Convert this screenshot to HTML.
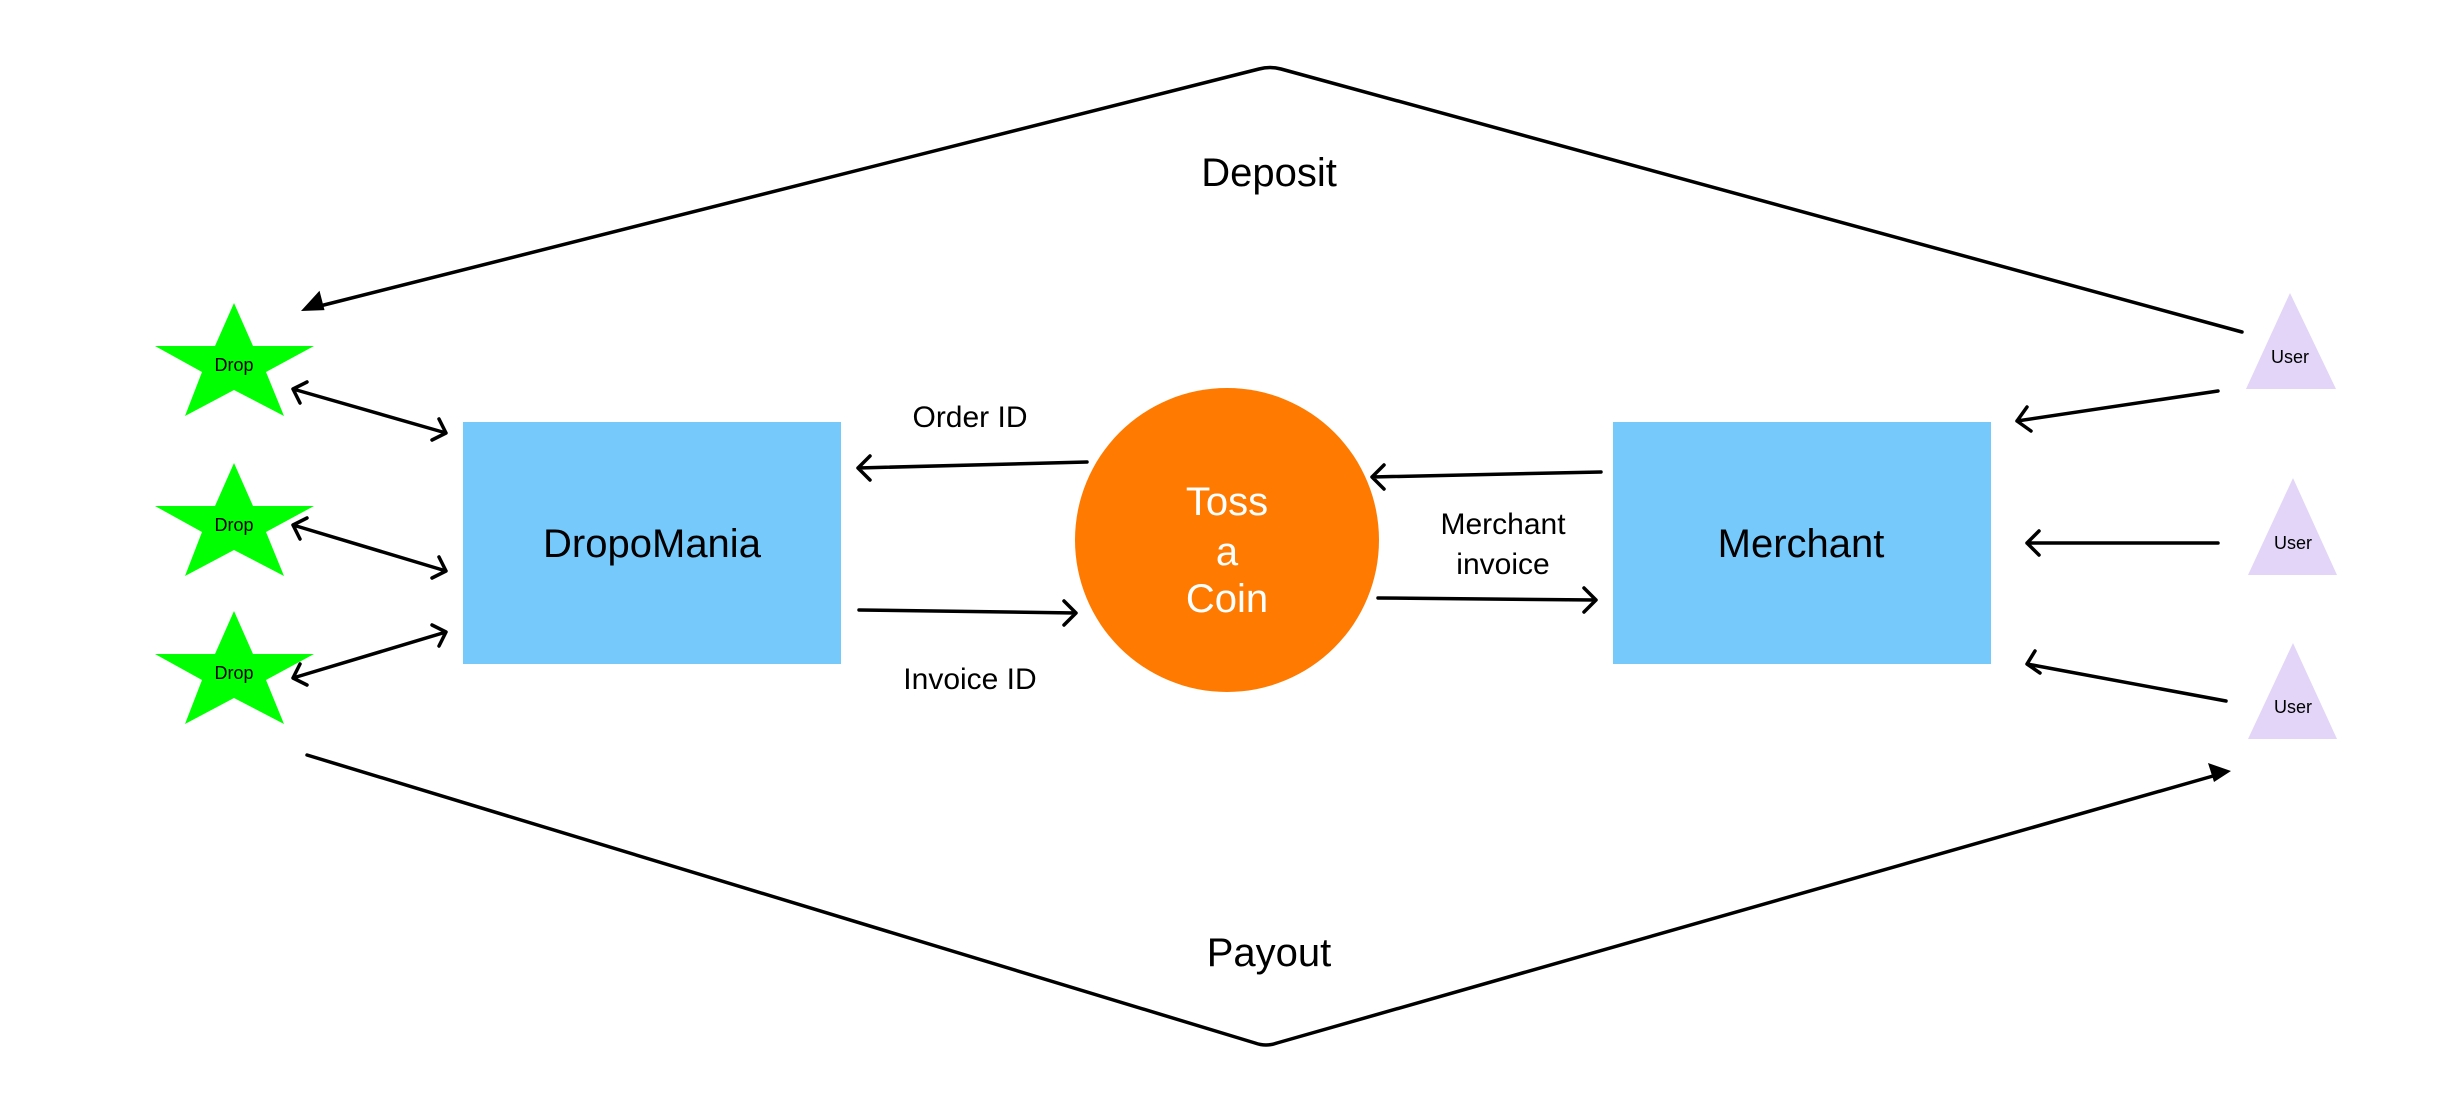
<!DOCTYPE html>
<html><head><meta charset="utf-8"><style>
html,body{margin:0;padding:0;background:#fff;}
svg{display:block;font-family:"Liberation Sans",sans-serif;}
</style></head><body>
<svg width="2454" height="1120" viewBox="0 0 2454 1120" xmlns="http://www.w3.org/2000/svg">
<defs>
<marker id="open" markerWidth="12" markerHeight="12" refX="10" refY="6" orient="auto" markerUnits="userSpaceOnUse" viewBox="0 0 12 12">
</marker>
</defs>
<rect x="463" y="422" width="378" height="242" fill="#75c9fb"/>
<rect x="1613" y="422" width="378" height="242" fill="#75c9fb"/>
<circle cx="1227" cy="540" r="152" fill="#ff7a00"/>
<g fill="#00ff00">
<polygon points="234,303 253,346 314,346 266,372 284,416 234,390 185,416 202,372 155,346 215,346"/>
<polygon transform="translate(0,160)" points="234,303 253,346 314,346 266,372 284,416 234,390 185,416 202,372 155,346 215,346"/>
<polygon transform="translate(0,308)" points="234,303 253,346 314,346 266,372 284,416 234,390 185,416 202,372 155,346 215,346"/>
</g>
<g fill="#e2d5f8">
<polygon points="2290,293 2336,389 2246,389"/>
<polygon points="2293,478 2337,575 2248,575"/>
<polygon points="2293,643 2337,739 2248,739"/>
</g>
<g fill="none" stroke="#000" stroke-width="3.5" stroke-linecap="round" stroke-linejoin="round">
<path d="M2242,332 L1281,69 Q1270,66 1259,69 L312,308"/>
<path d="M307,755 L1255,1043 Q1266,1047 1277,1043 L2220,774"/>
<!-- star arrows -->
<path d="M293,389 L446,433 M307,382 L293,389 L300,403 M432,440 L446,433 L439,419"/>
<path d="M293,525 L446,571 M307,518 L293,525 L300,539 M432,578 L446,571 L439,557"/>
<path d="M293,678 L446,632 M300,664 L293,678 L307,685 M439,646 L446,632 L432,625"/>
<!-- center arrows -->
<path d="M1087,462 L858,468 M870,456 L858,468 L870,480"/>
<path d="M859,610 L1076,613 M1064,601 L1076,613 L1064,625"/>
<path d="M1601,472 L1372,477 M1384,465 L1372,477 L1384,489"/>
<path d="M1378,598 L1596,600 M1584,588 L1596,600 L1584,612"/>
<path d="M2218,391 L2017,421 M2027,407 L2017,421 L2031,431"/>
<path d="M2218,543 L2027,543 M2039,531 L2027,543 L2039,555"/>
<path d="M2226,701 L2027,664 M2035,651 L2027,664 L2040,673"/>
</g>
<polygon points="301,311 324,296 324,316" fill="#000" transform="rotate(-14.5 301,311) translate(0,0)"/>
<polygon points="2231,771 2208,763 2214,782" fill="#000"/>
<g font-size="30" fill="#000" text-anchor="middle">
<text x="1269" y="186" font-size="40">Deposit</text>
<text x="1269" y="966" font-size="40">Payout</text>
<text x="652" y="557" font-size="40">DropoMania</text>
<text x="1801" y="557" font-size="40">Merchant</text>
<text x="970" y="427">Order ID</text>
<text x="970" y="689">Invoice ID</text>
<text x="1503" y="534">Merchant</text>
<text x="1503" y="574">invoice</text>
</g>
<g font-size="40" fill="#fff" text-anchor="middle">
<text x="1227" y="515">Toss</text>
<text x="1227" y="565">a</text>
<text x="1227" y="612">Coin</text>
</g>
<g font-size="18" fill="#000" text-anchor="middle">
<text x="234" y="371">Drop</text>
<text x="234" y="531">Drop</text>
<text x="234" y="679">Drop</text>
<text x="2290" y="363">User</text>
<text x="2293" y="549">User</text>
<text x="2293" y="713">User</text>
</g>
</svg>
</body></html>
